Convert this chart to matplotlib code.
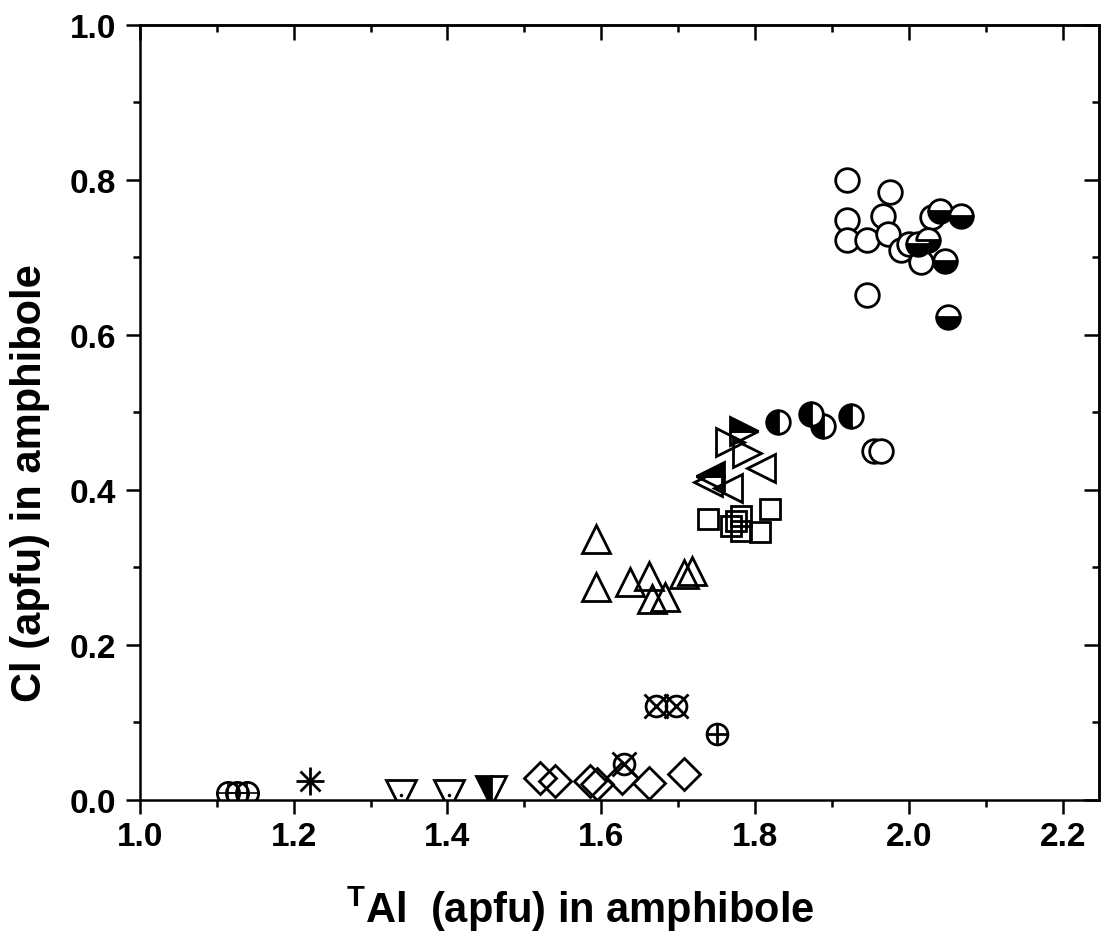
import matplotlib
matplotlib.use("Agg")
import matplotlib.pyplot as plt
from matplotlib.ticker import MultipleLocator, FormatStrFormatter

plt.rcParams['font.family'] = ['Liberation Sans', 'DejaVu Sans']
plt.rcParams['font.weight'] = 'bold'
plt.rcParams['mathtext.fontset'] = 'custom'
plt.rcParams['mathtext.bf'] = 'Liberation Sans:bold'
plt.rcParams['mathtext.rm'] = 'Liberation Sans:bold'

# ---- data (TAl, Cl) ----
open_circ_x = [1.920, 1.920, 1.920, 1.945, 1.945, 1.967, 1.976, 1.973, 1.990, 2.000, 2.016, 2.030, 1.955, 1.964]
open_circ_y = [0.800, 0.748, 0.722, 0.722, 0.652, 0.754, 0.785, 0.730, 0.710, 0.717, 0.694, 0.752, 0.450, 0.450]

half_bottom_x = [2.040, 2.068, 2.012, 2.025, 2.047, 2.051]
half_bottom_y = [0.760, 0.754, 0.717, 0.723, 0.696, 0.623]

half_left_x = [1.830, 1.873, 1.889, 1.925]
half_left_y = [0.488, 0.498, 0.483, 0.496]

right_tri_x = [1.768, 1.790]
right_tri_y = [0.462, 0.448]
right_tri_half_x = [1.785]
right_tri_half_y = [0.476]

left_tri_x = [1.808, 1.765, 1.739]
left_tri_y = [0.428, 0.402, 0.410]
left_tri_half_x = [1.742]
left_tri_half_y = [0.418]

square_x = [1.739, 1.769, 1.782, 1.782, 1.807, 1.820, 1.775]
square_y = [0.363, 0.354, 0.366, 0.347, 0.346, 0.375, 0.360]

up_tri_x = [1.593, 1.593, 1.638, 1.662, 1.666, 1.683, 1.707, 1.718]
up_tri_y = [0.337, 0.275, 0.281, 0.289, 0.259, 0.262, 0.292, 0.296]

cross_circ_x = [1.671, 1.697, 1.629]
cross_circ_y = [0.121, 0.121, 0.046]

plus_circ_x = [1.750]
plus_circ_y = [0.085]

diamond_x = [1.520, 1.540, 1.585, 1.595, 1.627, 1.662, 1.708]
diamond_y = [0.028, 0.025, 0.025, 0.020, 0.028, 0.022, 0.034]

grid_circ_x = [1.115, 1.127, 1.140]
grid_circ_y = [0.009, 0.009, 0.009]

asterisk_x = [1.221]
asterisk_y = [0.025]

down_tri_x = [1.340, 1.402]
down_tri_y = [0.006, 0.006]

down_tri_half_x = [1.456]
down_tri_half_y = [0.012]

x_ticks = [1.0, 1.2, 1.4, 1.6, 1.8, 2.0, 2.2]
y_ticks = [0.0, 0.2, 0.4, 0.6, 0.8, 1.0]

fig = plt.figure(figsize=(11.01, 9.45), dpi=100)
ax = fig.add_axes([0.127, 0.1524, 0.871, 0.8201])

lw = 2.0
common = dict(linestyle='none', markeredgecolor='black', markeredgewidth=lw, clip_on=True)

ax.plot(open_circ_x, open_circ_y, marker='o', ms=17, markerfacecolor='white', **common)
ax.plot(half_bottom_x, half_bottom_y, marker='o', ms=17, fillstyle='bottom',
        markerfacecolor='black', markerfacecoloralt='white', **common)
ax.plot(half_left_x, half_left_y, marker='o', ms=17, fillstyle='left',
        markerfacecolor='black', markerfacecoloralt='white', **common)

ax.plot(right_tri_x, right_tri_y, marker='>', ms=20, markerfacecolor='none', **common)
ax.plot(right_tri_half_x, right_tri_half_y, marker='>', ms=20, fillstyle='top',
        markerfacecolor='black', markerfacecoloralt='none', **common)
ax.plot(left_tri_x, left_tri_y, marker='<', ms=20, markerfacecolor='none', **common)
ax.plot(left_tri_half_x, left_tri_half_y, marker='<', ms=20, fillstyle='top',
        markerfacecolor='black', markerfacecoloralt='none', **common)

ax.plot(square_x, square_y, marker='s', ms=15, markerfacecolor='none', **common)
ax.plot(up_tri_x, up_tri_y, marker='^', ms=20, markerfacecolor='none', **common)

ax.plot(cross_circ_x, cross_circ_y, marker='o', ms=15, markerfacecolor='none', **common)
ax.plot(cross_circ_x, cross_circ_y, marker='x', ms=17, **common)
ax.plot(plus_circ_x, plus_circ_y, marker='o', ms=15, markerfacecolor='none', **common)
ax.plot(plus_circ_x, plus_circ_y, marker='+', ms=15, **common)

ax.plot(diamond_x, diamond_y, marker='D', ms=16, markerfacecolor='none', **common)

ax.plot(grid_circ_x, grid_circ_y, marker='o', ms=16, markerfacecolor='none', **common)
ax.plot(grid_circ_x, grid_circ_y, marker='+', ms=16, markeredgecolor='black',
        markeredgewidth=1.2, linestyle='none')

ax.plot(asterisk_x, asterisk_y, marker='+', ms=20, **common)
ax.plot(asterisk_x, asterisk_y, marker='x', ms=14, **common)

ax.plot(down_tri_x, down_tri_y, marker='v', ms=21, markerfacecolor='white', **common)
ax.plot(down_tri_x, down_tri_y, marker='.', ms=3, markerfacecolor='black',
        markeredgecolor='black', linestyle='none')
ax.plot(down_tri_half_x, down_tri_half_y, marker='v', ms=21, fillstyle='left',
        markerfacecolor='black', markerfacecoloralt='white', **common)

ax.set_xlim(1.0, 2.247)
ax.set_ylim(0.0, 1.0)
ax.set_xticks(x_ticks)
ax.set_yticks(y_ticks)
ax.xaxis.set_minor_locator(MultipleLocator(0.1))
ax.yaxis.set_minor_locator(MultipleLocator(0.1))
ax.xaxis.set_major_formatter(FormatStrFormatter('%.1f'))
ax.yaxis.set_major_formatter(FormatStrFormatter('%.1f'))

for s in ax.spines.values():
    s.set_linewidth(1.8)

ax.tick_params(which='major', direction='out', length=10, width=1.8, labelsize=24, pad=5)
ax.tick_params(which='minor', direction='out', length=5, width=1.8)
ax.tick_params(axis='y', which='major', pad=7)

secx = ax.secondary_xaxis('top')
secx.set_xticks(x_ticks)
secx.xaxis.set_minor_locator(MultipleLocator(0.1))
secx.tick_params(which='major', direction='in', length=11, width=1.8, labeltop=False)
secx.tick_params(which='minor', direction='in', length=5, width=1.8)
secx.spines['top'].set_linewidth(1.8)

secy = ax.secondary_yaxis('right')
secy.set_yticks(y_ticks)
secy.yaxis.set_minor_locator(MultipleLocator(0.1))
secy.tick_params(which='major', direction='in', length=11, width=1.8, labelright=False)
secy.tick_params(which='minor', direction='in', length=5, width=1.8)
secy.spines['right'].set_linewidth(1.8)

ax.set_xlabel(r'$\mathbf{^{T}}$Al  (apfu) in amphibole', fontsize=30, fontweight='bold')
ax.xaxis.set_label_coords(0.459, -0.108)
ax.set_ylabel('Cl (apfu) in amphibole', fontsize=30, fontweight='bold')
ax.yaxis.set_label_coords(-0.094, 0.41)

fig.savefig('out.png', dpi=100)
